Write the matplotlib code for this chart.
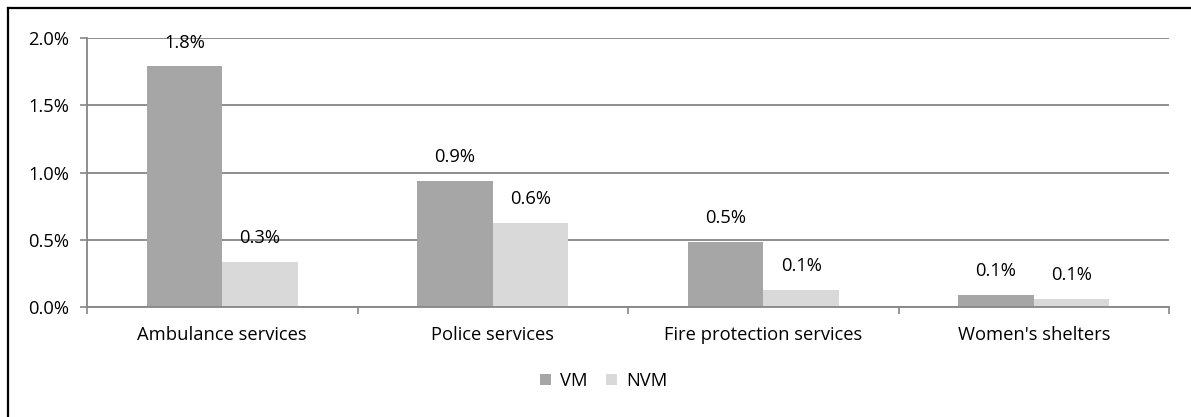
import matplotlib
matplotlib.use("Agg")
import matplotlib.pyplot as plt
from matplotlib.lines import Line2D
from matplotlib.patches import Patch
import numpy as np

categories = ["Ambulance services", "Police services", "Fire protection services", "Women's shelters"]
vm = [1.79, 0.94, 0.485, 0.09]
nvm = [0.335, 0.627, 0.125, 0.058]
series_names = ["VM", "NVM"]
yticks = [0.0, 0.5, 1.0, 1.5, 2.0]

plt.rcParams["font.family"] = ["Open Sans", "DejaVu Sans"]
FS = 13.2

fig = plt.figure(figsize=(11.91, 4.17), dpi=100)
ax = fig.add_axes([87 / 1191, 110.3 / 417, (1169 - 87) / 1191, (306.7 - 38.3) / 417])

grid_col = "#868686"
vm_col = "#A6A6A6"
nvm_col = "#D9D9D9"

centers = np.arange(len(categories)) + 0.5
w = 0.28
b1 = ax.bar(centers - w / 2, vm, width=w, color=vm_col, zorder=2, label=series_names[0])
b2 = ax.bar(centers + w / 2, nvm, width=w, color=nvm_col, zorder=2, label=series_names[1])

for bars, vals in ((b1, vm), (b2, nvm)):
    for rect, v in zip(bars, vals):
        ax.annotate(f"{v:.1f}%", (rect.get_x() + rect.get_width() / 2, v),
                    xytext=(0, 17), textcoords="offset points",
                    ha="center", va="center", fontsize=FS, color="black", zorder=3)

ax.set_xlim(0, len(categories))
ax.set_ylim(0, 2.0)
ax.set_yticks(yticks)
ax.set_yticklabels([f"{t:.1f}%" for t in yticks], fontsize=FS)
ax.yaxis.grid(True, color=grid_col, linewidth=1.3, zorder=0)
ax.set_axisbelow(True)

ax.set_xticks(np.arange(len(categories) + 1))
ax.set_xticklabels([])
ax.set_xticks(centers, minor=True)
ax.set_xticklabels(categories, minor=True, fontsize=FS)
ax.tick_params(axis="x", which="minor", length=0, pad=14)
ax.tick_params(axis="x", which="major", length=5, width=1.2, color=grid_col)
ax.tick_params(axis="y", length=5, width=1.2, color=grid_col, pad=8)

for s in ("top", "right"):
    ax.spines[s].set_visible(False)
for s in ("left", "bottom"):
    ax.spines[s].set_color(grid_col)
    ax.spines[s].set_linewidth(1.3)

handles = [Patch(facecolor=vm_col, label=series_names[0]),
           Patch(facecolor=nvm_col, label=series_names[1])]
fig.legend(handles=handles, loc="center", bbox_to_anchor=(604 / 1191, 1 - 381 / 417),
           ncol=2, frameon=False, fontsize=FS, handlelength=0.6, handleheight=0.6,
           handletextpad=0.5, columnspacing=1.0)

# chart area frame (top and left edges)
fig.add_artist(Line2D([8 / 1191, 8 / 1191], [0, 1 - 8 / 417], transform=fig.transFigure,
                      color="black", linewidth=1.6))
fig.add_artist(Line2D([8 / 1191, 1], [1 - 8 / 417, 1 - 8 / 417], transform=fig.transFigure,
                      color="black", linewidth=1.6))

fig.savefig("out.png", dpi=100)
